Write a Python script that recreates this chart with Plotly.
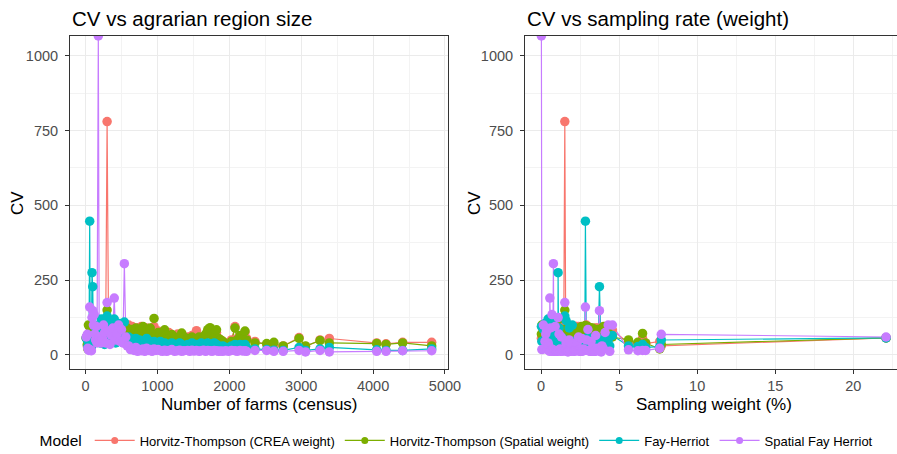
import plotly.graph_objects as go
import pandas as pd

# ---- data (one entry per agrarian region) ----
farms = [10, 25, 32, 40, 48, 58, 66, 75, 82, 90, 100, 110, 120, 130, 140, 150, 160, 178, 190, 205,
         220, 235, 250, 265, 280, 300, 320, 340, 360, 380, 400, 420, 440, 460, 480, 500, 520, 540, 560, 580,
         600, 625, 650, 675, 700, 725, 750, 775, 800, 825, 850, 875, 900, 925, 953, 980, 1010, 1040, 1070, 1100,
         1130, 1160, 1200, 1240, 1280, 1310, 1338, 1370, 1420, 1450, 1480, 1510, 1543, 1580, 1610, 1640, 1670, 1700, 1732, 1760,
         1790, 1822, 1850, 1880, 1910, 1950, 1990, 2030, 2079, 2110, 2150, 2190, 2218, 2240, 2357, 2520, 2620, 2750, 2970, 3060,
         3262, 3391, 4050, 4180, 4411, 4815]
weight = [22.1, 7.7, 7.6, 0.05, 6.5, 2.84, 5.6, 6.7, 6.2, 1.09, 3.74, 4.57, 0.7, 0.3, 1.8, 0.9, 2.3, 0.02, 1.3, 3.2,
          0.45, 2.6, 0.15, 4.1, 1.6, 1.52, 0.35, 2.0, 3.5, 0.6, 0.56, 2.9, 1.15, 4.3, 0.25, 3.0, 1.9, 0.79, 2.4, 3.9,
          0.5, 1.4, 2.7, 0.85, 3.3, 1.7, 0.4, 2.2, 4.0, 1.0, 3.6, 0.65, 2.5, 1.25, 1.22, 3.1, 0.75, 2.1, 4.4, 1.35,
          0.55, 2.8, 1.55, 3.4, 0.95, 2.35, 1.75, 3.8, 2.05, 1.05, 3.25, 1.45, 2.65, 0.88, 3.55, 1.62, 2.45, 1.12, 3.05, 0.72,
          2.15, 1.85, 3.45, 0.98, 2.55, 1.28, 3.15, 1.68, 2.25, 0.82, 2.95, 1.38, 3.65, 1.95, 2.75, 1.58, 3.35, 2.12, 1.08, 3.85,
          2.38, 1.72, 2.62, 3.18, 1.88, 2.48]
cv_ht_crea = [57, 30, 45, 60, 55, 95, 40, 38, 35, 70, 62, 83, 50, 75, 55, 65, 60, 55, 70, 85,
              90, 75, 80, 95, 70, 780, 85, 75, 90, 80, 90, 100, 85, 70, 95, 80, 90, 80, 95, 85,
              100, 90, 95, 85, 80, 90, 75, 95, 85, 70, 90, 80, 75, 85, 95, 70, 80, 65, 75, 70,
              60, 75, 65, 55, 70, 60, 65, 55, 60, 55, 65, 60, 81, 55, 60, 50, 65, 70, 60, 55,
              70, 75, 55, 50, 45, 40, 35, 50, 95, 55, 60, 50, 75, 55, 45, 35, 30, 30, 58, 28,
              50, 55, 40, 37, 42, 42]
cv_ht_spatial = [57, 35, 20, 100, 72, 98, 50, 40, 42, 90, 85, 60, 80, 95, 65, 75, 85, 70, 60, 90,
                 70, 95, 55, 80, 85, 150, 100, 80, 70, 95, 60, 85, 90, 75, 70, 95, 80, 70, 75, 90,
                 80, 70, 85, 75, 90, 65, 80, 70, 95, 60, 85, 75, 90, 70, 122, 65, 75, 70, 60, 84,
                 65, 55, 68, 60, 55, 50, 73, 60, 55, 50, 60, 45, 55, 60, 50, 55, 70, 85, 91, 65,
                 60, 84, 55, 50, 45, 35, 30, 45, 90, 50, 65, 55, 80, 50, 40, 38, 42, 30, 55, 30,
                 48, 40, 38, 35, 40, 30]
cv_fh = [57, 50, 28, 45, 35, 447, 30, 25, 28, 275, 228, 65, 100, 55, 90, 70, 45, 95, 60, 40,
         120, 50, 85, 35, 115, 130, 60, 100, 45, 75, 120, 40, 90, 50, 105, 60, 45, 110, 40, 55,
         60, 55, 50, 45, 55, 40, 50, 35, 45, 40, 55, 35, 45, 30, 45, 40, 35, 45, 30, 40,
         35, 30, 40, 35, 30, 40, 35, 30, 35, 30, 40, 30, 35, 30, 40, 35, 30, 40, 35, 30,
         40, 35, 30, 25, 30, 25, 20, 30, 35, 30, 35, 30, 35, 25, 20, 18, 16, 15, 25, 15,
         20, 25, 17, 15, 15, 20]
cv_sfh = [60, 69, 22, 18, 15, 160, 17, 15, 14, 125, 148, 100, 135, 70, 50, 95, 40, 1066, 60, 45,
          40, 55, 100, 75, 40, 175, 80, 35, 65, 90, 190, 50, 70, 100, 45, 85, 40, 305, 60, 30,
          30, 18, 20, 15, 25, 12, 18, 14, 20, 12, 22, 15, 18, 12, 20, 15, 18, 14, 12, 16,
          12, 15, 18, 12, 14, 16, 12, 14, 15, 12, 16, 13, 15, 12, 14, 16, 12, 15, 14, 12,
          15, 14, 12, 13, 12, 14, 12, 15, 14, 12, 15, 13, 14, 12, 15, 15, 12, 12, 15, 10,
          15, 10, 12, 12, 14, 14]

models = ["Horvitz-Thompson (CREA weight)", "Horvitz-Thompson (Spatial weight)",
          "Fay-Herriot", "Spatial Fay Herriot"]
colors = ["#F8766D", "#7CAE00", "#00BFC4", "#C77CFF"]
series = [cv_ht_crea, cv_ht_spatial, cv_fh, cv_sfh]

df = pd.DataFrame({"farms": farms, "weight": weight})
for m, s in zip(models, series):
    df[m] = s

FONT = "Liberation Sans, Arial, sans-serif"
fig = go.Figure()

panels = [("farms", "x", "y"), ("weight", "x2", "y2")]
# lines first (like geom_line), then points (geom_point)
for xcol, xa, ya in panels:
    d = df.sort_values(xcol)
    for m, c in zip(models, colors):
        fig.add_trace(go.Scatter(x=d[xcol], y=d[m], mode="lines", xaxis=xa, yaxis=ya,
                                 line=dict(color=c, width=1.2), showlegend=False, hoverinfo="skip"))
for xcol, xa, ya in panels:
    d = df.sort_values(xcol)
    for m, c in zip(models, colors):
        fig.add_trace(go.Scatter(x=d[xcol], y=d[m], mode="markers", xaxis=xa, yaxis=ya,
                                 marker=dict(color=c, size=9.5, line=dict(width=0)),
                                 showlegend=False, name=m))
# legend keys
for m, c in zip(models, colors):
    fig.add_trace(go.Scatter(x=[None], y=[None], mode="lines+markers", name=m,
                             line=dict(color=c, width=1.2), marker=dict(color=c, size=7)))

W, H = 897, 454
ml, mr, mt, mb = 70, 0, 36, 85
pw = W - ml - mr
ph = H - mt - mb
d1 = [0, (448 - ml) / pw]
d2 = [(525 - ml) / pw, 1]


def px_x(p):
    return (p - ml) / pw


def px_y(p):
    return (H - mb - p) / ph


grid = "#EBEBEB"
border = "#333333"
tickfont = dict(family=FONT, size=14.5, color="#4D4D4D")
common_x = dict(showline=True, linecolor=border, linewidth=1, ticks="outside", ticklen=4,
                tickcolor=border, tickwidth=1, gridcolor=grid, gridwidth=1.3, zeroline=False,
                tickfont=tickfont)
common_y = dict(showline=True, linecolor=border, linewidth=1, ticks="outside", ticklen=4,
                tickcolor=border, tickwidth=1, gridcolor=grid, gridwidth=1.3, zeroline=False,
                tickfont=tickfont, range=[-47, 1066], tick0=0, dtick=250, ticklabelstandoff=4,
                minor=dict(dtick=125, tick0=0, showgrid=True, gridcolor="#F3F3F3", gridwidth=0.8, ticks=""))

fig.update_layout(
    width=W, height=H,
    margin=dict(l=ml, r=mr, t=mt, b=mb, autoexpand=False),
    paper_bgcolor="white", plot_bgcolor="white",
    font=dict(family=FONT, color="black"),
    xaxis=dict(domain=d1, anchor="y", range=[-216, 5042], tick0=0, dtick=1000, mirror=True,
               minor=dict(dtick=500, tick0=0, showgrid=True, gridcolor="#F3F3F3", gridwidth=0.8, ticks=""),
               **common_x),
    yaxis=dict(domain=[0, 1], anchor="x", mirror=True, **common_y),
    xaxis2=dict(domain=d2, anchor="y2", range=[-1.03, 22.8], tick0=0, dtick=5, mirror=True,
                minor=dict(dtick=2.5, tick0=0, showgrid=True, gridcolor="#F3F3F3", gridwidth=0.8, ticks=""),
                **common_x),
    yaxis2=dict(domain=[0, 1], anchor="x2", mirror=False, **common_y),
    legend=dict(orientation="h", x=px_x(458), xanchor="center", y=px_y(441),
                yanchor="middle", font=dict(family=FONT, size=13, color="black"),
                title=dict(text="Model", font=dict(family=FONT, size=15.5, color="black")),
                itemwidth=40, bgcolor="rgba(0,0,0,0)"),
    showlegend=True,
)

ann = [
    dict(text="CV vs agrarian region size", x=px_x(70), y=px_y(18), xanchor="left", yanchor="middle",
         font=dict(size=20.5)),
    dict(text="CV vs sampling rate (weight)", x=px_x(525), y=px_y(18), xanchor="left", yanchor="middle",
         font=dict(size=20.5)),
    dict(text="Number of farms (census)", x=px_x(259), y=px_y(404), xanchor="center", yanchor="middle",
         font=dict(size=17)),
    dict(text="Sampling weight (%)", x=px_x(714), y=px_y(404), xanchor="center", yanchor="middle",
         font=dict(size=17)),
    dict(text="CV", x=px_x(17), y=px_y(203), xanchor="center", yanchor="middle", textangle=-90,
         font=dict(size=17)),
    dict(text="CV", x=px_x(474), y=px_y(203), xanchor="center", yanchor="middle", textangle=-90,
         font=dict(size=17)),
]
for a in ann:
    a.update(xref="paper", yref="paper", showarrow=False)
    a["font"] = dict(family=FONT, color="black", size=a["font"]["size"])
fig.update_layout(annotations=ann)

fig.write_html("out.html", config={"displayModeBar": False},
               post_script="document.body.style.margin='0';document.body.style.padding='0';")
